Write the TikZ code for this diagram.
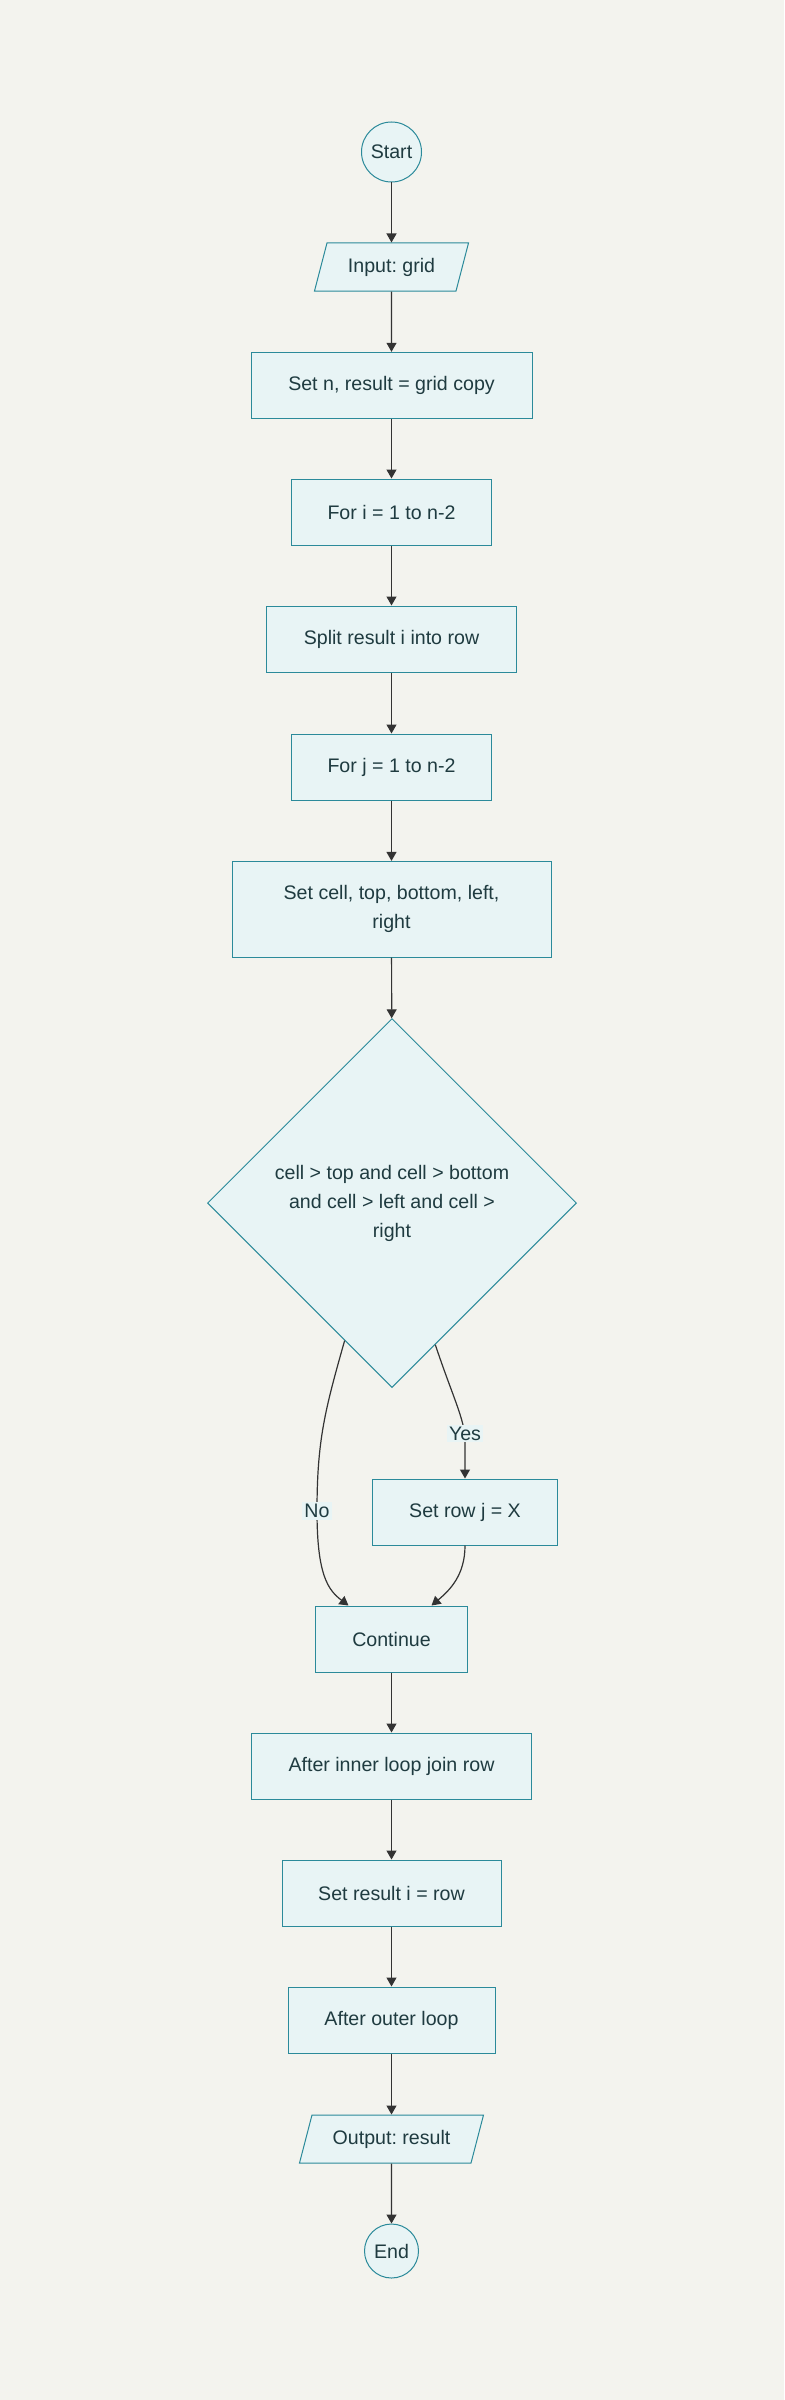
\documentclass[tikz,border=0pt]{standalone}
\usepackage{fontspec}
\setmainfont{Liberation Sans}
\usetikzlibrary{shapes.geometric,arrows.meta}
\definecolor{bgcol}{HTML}{F3F3EE}
\definecolor{boxfill}{HTML}{E8F4F5}
\definecolor{boxline}{HTML}{2B8A9A}
\definecolor{txtcol}{HTML}{1F3B40}
\definecolor{edgecol}{HTML}{333333}

\begin{document}
\frenchspacing
\begin{tikzpicture}[x=1pt, y=-1pt,
    every node/.style={font=\fontsize{19.6pt}{29pt}\selectfont, text=txtcol},
    shp/.style={draw=boxline, fill=boxfill, line width=1pt},
    proc/.style={shp, rectangle, minimum height=66pt, align=center},
    term/.style={shp, circle, inner sep=1pt},
    io/.style={shp, trapezium, trapezium left angle=63.4, trapezium right angle=116.6,
        trapezium stretches body, minimum height=48pt},
    cond/.style={shp, diamond, inner sep=0pt, align=center, minimum width=369pt, minimum height=369pt},
    lbl/.style={fill=boxfill, inner sep=2pt},
    flow/.style={-{Triangle[width=10pt,length=9pt]}, draw=edgecol, line width=1.2pt}]
    \useasboundingbox (0,0) rectangle (784,2400);
    \fill [bgcol] (0,0) rectangle (784,2400);

    \node [term, minimum size=60pt] (start) at (391.5,152) {Start};
    \node [io, minimum width=154pt] (input) at (391.5,267) {Input: grid};
    \node [proc, minimum width=281pt] (setn) at (391.5,385.3) {Set n, result = grid copy};
    \node [proc, minimum width=200pt] (fori) at (391.5,512) {For i = 1 to n-2};
    \node [proc, minimum width=250pt] (split) at (391.5,639) {Split result i into row};
    \node [proc, minimum width=200pt] (forj) at (391.5,767) {For j = 1 to n-2};
    \node [proc, minimum width=319pt, minimum height=95.6pt] (setcell) at (391.5,909.2)
        {Set cell, top, bottom, left,\\ right};
    \node [cond] (check) at (392,1203)
        {cell > top and cell > bottom\\ and cell > left and cell >\\ right};
    \node [proc, minimum width=185pt] (setrow) at (465,1512) {Set row j = X};
    \node [proc, minimum width=152pt] (cont) at (391.5,1639) {Continue};
    \node [proc, minimum width=280pt] (joinrow) at (391.5,1766) {After inner loop join row};
    \node [proc, minimum width=219pt] (setres) at (391.5,1893) {Set result i = row};
    \node [proc, minimum width=207pt] (outer) at (391.5,2020) {After outer loop};
    \node [io, minimum width=184pt] (output) at (391.5,2139) {Output: result};
    \node [term, minimum size=54pt] (finish) at (391.5,2251) {End};

    \draw [flow] (start) -- (input);
    \draw [flow] (input) -- (setn);
    \draw [flow] (setn) -- (fori);
    \draw [flow] (fori) -- (split);
    \draw [flow] (split) -- (forj);
    \draw [flow] (forj) -- (setcell);
    \draw [flow] (setcell) -- (check);
    \draw [flow] (check.287.7) .. controls (452,1395) and (465,1420) .. (465,1440) -- (setrow);
    \draw [flow] (check.251.8) .. controls (325,1410) and (317,1440) .. (317,1511)
        .. controls (317,1575) and (328,1590) .. ([xshift=-43pt]cont.north);
    \draw [flow] (setrow) .. controls (465,1575) and (450,1590) .. ([xshift=40pt]cont.north);
    \draw [flow] (cont) -- (joinrow);
    \draw [flow] (joinrow) -- (setres);
    \draw [flow] (setres) -- (outer);
    \draw [flow] (outer) -- (output);
    \draw [flow] (output) -- (finish);

    \node [lbl] (yes) at (465,1433.5) {Yes};
    \node [lbl] (no) at (317,1511) {No};
\end{tikzpicture}
\end{document}
